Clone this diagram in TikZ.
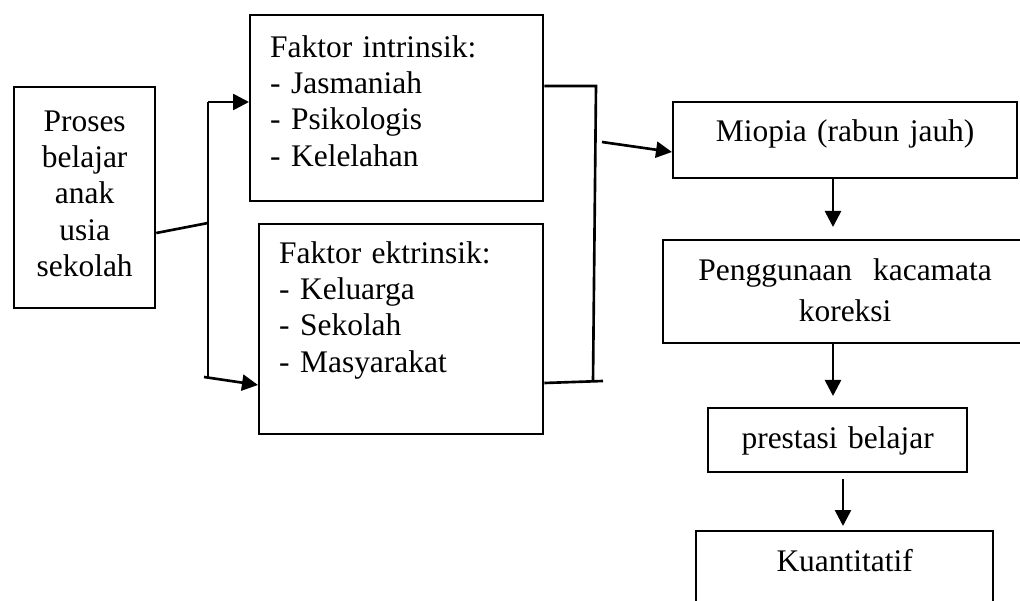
\documentclass[tikz,border=0pt]{standalone}
\usepackage{fontspec}
\setmainfont{Liberation Serif}
\usetikzlibrary{positioning,arrows.meta,calc}

\begin{document}
\begin{tikzpicture}[
    box/.style={draw,line width=1.3pt,inner sep=0pt,anchor=north west,align=center,
      font=\fontsize{17.9pt}{20.7pt}\selectfont},
    listbox/.style={box,align=left,inner xsep=0.4cm},
    link/.style={line width=1.5pt},
    arr/.style={link,-{Triangle[length=0.32cm,width=0.32cm]}}]
  \useasboundingbox (0,0) rectangle (20.4,12);
  \clip (0,0) rectangle (20.4,12);
  % left side
  \node[box,text width=2.82cm,text height=0.88cm,text depth=3.54cm] (proses) at (0.26,10.28)
    {Proses\\belajar\\anak\\usia\\sekolah};
  \node[listbox,text width=5.06cm,text height=0.84cm,text depth=2.88cm] (intr) at (4.98,11.72)
    {Faktor intrinsik:\\- Jasmaniah\\- Psikologis\\- Kelelahan};
  \node[listbox,text width=4.88cm,text height=0.78cm,text depth=3.42cm] (ekst) at (5.16,7.54)
    {Faktor ektrinsik:\\- Keluarga\\- Sekolah\\- Masyarakat};
  % right side
  \node[box,text width=6.88cm,text height=0.78cm,text depth=0.74cm] (miopia) at (13.44,9.98)
    {Miopia (rabun jauh)};
  \node[box,text width=7.28cm,text height=0.8cm,text depth=1.26cm,
    font=\fontsize{17.9pt}{23.3pt}\selectfont] (guna) at (13.24,7.22)
    {Penggunaan\ \ kacamata\\koreksi};
  \node[box,text width=5.18cm,text height=0.8cm,text depth=0.48cm] (prestasi) at (14.14,3.86)
    {prestasi belajar};
  \node[box,text width=5.94cm,text height=0.8cm,text depth=0.72cm] (kuan) at (13.9,1.4)
    {Kuantitatif};

  \coordinate (jtop) at (4.16,9.96);
  \coordinate (jmid) at (4.16,7.54);
  \coordinate (jbot) at (4.16,4.46);
  \coordinate (kstart) at (4.08,4.46);
  \coordinate (rtop) at (11.92,10.28);
  \coordinate (rbot) at (11.86,4.36);
  \coordinate (rend) at (12.06,4.38);
  \coordinate (mstart) at (12.04,9.16);
  \coordinate (d1) at (16.66,7.46);
  \coordinate (d2) at (16.66,4.08);
  \coordinate (d3s) at (16.86,2.42);
  \coordinate (d3) at (16.86,1.48);

  \draw[link] (proses.east |- 0,7.34) -- (jmid);
  \draw[link] (jtop) -- (jbot);
  \draw[arr] (jtop) -- (jtop -| intr.west);
  \draw[arr] (kstart) -- (ekst.west |- 0,4.3);
  \draw[link] (intr.east |- rtop) -- (rtop) -- (rbot);
  \draw[link] (ekst.east |- 0,4.34) -- (rend);
  \draw[arr] (mstart) -- (miopia.west |- 0,8.96);
  \draw[arr] (miopia.south -| d1) -- (d1);
  \draw[arr] (guna.south -| d2) -- (d2);
  \draw[arr] (d3s) -- (d3);
\end{tikzpicture}
\end{document}
